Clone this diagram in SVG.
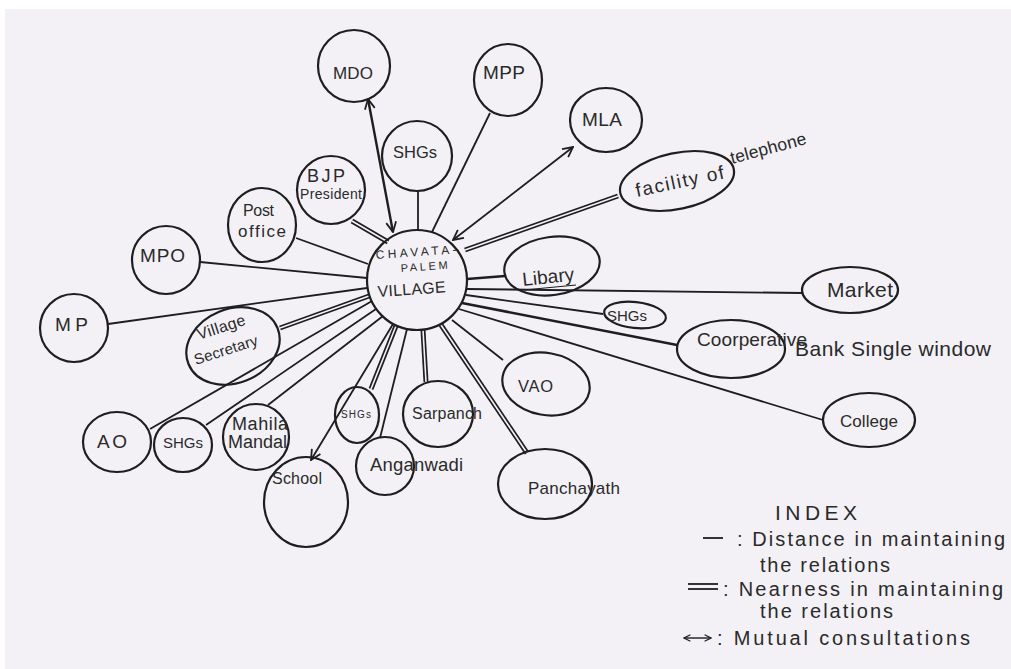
<svg xmlns="http://www.w3.org/2000/svg" width="1011" height="669" viewBox="0 0 1011 669">
<defs>
<style>
.n{fill:none;stroke:#1e1e1e;stroke-width:2.2}
.l{fill:none;stroke:#1e1e1e;stroke-width:1.8}
.d{fill:none;stroke:#1e1e1e;stroke-width:5}
.di{fill:none;stroke:#f3f1f6;stroke-width:1.6}
text{font-family:"Liberation Sans",Arial,sans-serif;fill:#2a2a2a;font-size:17px}
.m{font-size:19px}
.b{font-size:21px}
.g{font-size:18px}
.x{font-size:20px}
</style>
<marker id="ah" viewBox="0 0 12 12" refX="11" refY="6" markerWidth="12" markerHeight="12" markerUnits="userSpaceOnUse" orient="auto-start-reverse">
<path d="M1,1 L11,6 L1,11" fill="none" stroke="#1e1e1e" stroke-width="1.8"/>
</marker>
<marker id="ahs" viewBox="0 0 10 10" refX="9" refY="5" markerWidth="8" markerHeight="8" markerUnits="userSpaceOnUse" orient="auto-start-reverse">
<path d="M1,1 L9,5 L1,9" fill="none" stroke="#1e1e1e" stroke-width="1.5"/>
</marker>
</defs>
<rect width="1011" height="669" fill="#ffffff"/>
<rect x="5" y="9" width="1006" height="660" fill="#f3f1f6"/>
<g id="connectors">
<line class="d" x1="352" y1="221" x2="388" y2="242"/><line class="di" x1="352" y1="221" x2="388" y2="242"/>
<line class="d" x1="280" y1="328" x2="369" y2="296"/><line class="di" x1="280" y1="328" x2="369" y2="296"/>
<line class="d" x1="371" y1="389" x2="396" y2="326"/><line class="di" x1="371" y1="389" x2="396" y2="326"/>
<line class="d" x1="426" y1="382" x2="423" y2="330"/><line class="di" x1="426" y1="382" x2="423" y2="330"/>
<line class="d" x1="527" y1="453" x2="441" y2="325"/><line class="di" x1="527" y1="453" x2="441" y2="325"/>
<line class="d" x1="618" y1="196" x2="465" y2="250"/><line class="di" x1="618" y1="196" x2="465" y2="250"/>
<line class="l" x1="490" y1="113" x2="432" y2="232"/>
<line class="l" x1="418" y1="191" x2="418" y2="230"/>
<line class="l" x1="296" y1="238" x2="368" y2="264"/>
<line class="l" x1="200" y1="262" x2="367" y2="278"/>
<line class="l" x1="108" y1="324" x2="367" y2="288"/>
<line class="l" x1="150" y1="429" x2="372" y2="301"/>
<line class="l" x1="206" y1="425" x2="376" y2="309"/>
<line class="l" x1="268" y1="405" x2="383" y2="316"/>
<line class="l" x1="380" y1="438" x2="407" y2="329"/>
<line class="l" x1="503" y1="360" x2="452" y2="320"/>
<line class="l" x1="823" y1="420" x2="459" y2="309"/>
<line class="l" x1="677" y1="345" x2="462" y2="303" style="stroke-width:2.6"/>
<line class="l" x1="603" y1="314" x2="466" y2="295"/>
<line class="l" x1="802" y1="293" x2="467" y2="289"/>
<line class="l" x1="505" y1="276" x2="467" y2="279" style="stroke-width:2.4"/>
<line class="l" x1="368" y1="99" x2="393" y2="232" style="stroke-width:2.4" marker-start="url(#ah)" marker-end="url(#ah)"/>
<line class="l" x1="573" y1="147" x2="453" y2="240" marker-start="url(#ah)" marker-end="url(#ah)"/>
<line class="l" x1="393" y1="324" x2="311" y2="460" marker-end="url(#ah)"/>
</g>
<g id="village">
<circle class="n" cx="417" cy="280" r="50"/>
<text x="376" y="259" style="font-size:12px" textLength="81" transform="rotate(-4 376 259)">CHAVATA-</text>
<text x="401" y="272" style="font-size:11px" textLength="47" transform="rotate(-4 401 272)">PALEM</text>
<text x="378" y="297" style="font-size:16px" textLength="68" transform="rotate(-4 378 297)">VILLAGE</text>
</g>
<g id="mdo"><ellipse class="n" cx="354" cy="66" rx="36" ry="36"/><text x="333" y="79" textLength="40">MDO</text></g>
<g id="mpp"><ellipse class="n" cx="508" cy="80" rx="34" ry="36"/><text class="m" x="483" y="79" textLength="42">MPP</text></g>
<g id="mla"><ellipse class="n" cx="606" cy="120" rx="36" ry="32"/><text class="m" x="582" y="126" textLength="40">MLA</text></g>
<g id="shgs-top"><circle class="n" cx="417" cy="156" r="35"/><text x="393" y="158" style="font-size:16.5px" textLength="44">SHGs</text></g>
<g id="telephone"><ellipse class="n" cx="677" cy="181" rx="58" ry="28" transform="rotate(-12 677 181)"/><text class="m" x="637" y="197" textLength="90" transform="rotate(-12 637 197)">facility of</text><text x="732" y="164" style="font-size:17.5px" textLength="78" transform="rotate(-15 732 164)">telephone</text></g>
<g id="bjp"><circle class="n" cx="331" cy="190" r="34"/><text class="g" x="307" y="182" textLength="38">BJP</text><text x="300" y="199" style="font-size:14px" textLength="62">President</text></g>
<g id="post-office"><ellipse class="n" cx="262" cy="225" rx="34" ry="37"/><text x="243" y="216" style="font-size:16px" textLength="31">Post</text><text x="238" y="237" textLength="48">office</text></g>
<g id="mpo"><circle class="n" cx="166" cy="260" r="34"/><text class="m" x="140" y="262" textLength="45">MPO</text></g>
<g id="mp"><circle class="n" cx="74" cy="328" r="34"/><text class="m" x="55" y="331" textLength="33">MP</text></g>
<g id="village-secretary"><ellipse class="n" cx="233" cy="346" rx="48" ry="37" transform="rotate(-22 233 346)"/><text x="199" y="340" style="font-size:16px" textLength="50" transform="rotate(-18 199 340)">Village</text><text x="196" y="365" style="font-size:15px" textLength="66" transform="rotate(-18 196 365)">Secretary</text></g>
<g id="ao"><ellipse class="n" cx="117" cy="442" rx="34" ry="30"/><text class="m" x="97" y="448" textLength="30">AO</text></g>
<g id="shgs-left"><ellipse class="n" cx="183" cy="445" rx="29" ry="27"/><text x="163" y="448" style="font-size:15px" textLength="40">SHGs</text></g>
<g id="mahila-mandal"><circle class="n" cx="256" cy="437" r="33"/><text class="g" x="232" y="430" textLength="56">Mahila</text><text class="g" x="228" y="448" textLength="59">Mandal</text></g>
<g id="school"><ellipse class="n" cx="306" cy="502" rx="42" ry="45"/><text x="272" y="484" style="font-size:16px" textLength="50">School</text></g>
<g id="shgs-bottom"><ellipse class="n" cx="357" cy="415" rx="22" ry="28"/><text x="341" y="418" style="font-size:10px" textLength="30">SHGs</text></g>
<g id="anganwadi"><circle class="n" cx="385" cy="466" r="29"/><text x="370" y="471" style="font-size:18.5px" textLength="93">Anganwadi</text></g>
<g id="sarpanch"><ellipse class="n" cx="438" cy="414" rx="35" ry="33"/><text x="412" y="419" style="font-size:16px" textLength="70">Sarpanch</text></g>
<g id="vao"><ellipse class="n" cx="546" cy="384" rx="44" ry="31" transform="rotate(10 546 384)"/><text x="518" y="392" style="font-size:16.5px" textLength="35">VAO</text></g>
<g id="panchayath"><ellipse class="n" cx="545" cy="484" rx="47" ry="35"/><text x="528" y="494" textLength="92">Panchayath</text></g>
<g id="library"><ellipse class="n" cx="552" cy="266" rx="48" ry="29" transform="rotate(-8 552 266)"/><text class="m" x="523" y="286" textLength="52" transform="rotate(-6 523 286)">Libary</text><line class="l" x1="524" y1="290" x2="576" y2="285" style="stroke-width:1.2"/></g>
<g id="shgs-right"><ellipse class="n" cx="635" cy="315" rx="31" ry="13" transform="rotate(6 635 315)"/><text x="607" y="321" style="font-size:15px" textLength="40">SHGs</text></g>
<g id="market"><ellipse class="n" cx="850" cy="290" rx="48" ry="23"/><text class="b" x="827" y="297" textLength="66">Market</text></g>
<g id="cooperative"><ellipse class="n" cx="731" cy="349" rx="54" ry="29"/><text class="m" x="697" y="346" textLength="110">Coorperative</text><text class="b" x="795" y="356" textLength="196">Bank Single window</text></g>
<g id="college"><ellipse class="n" cx="869" cy="420" rx="46" ry="27"/><text x="840" y="427" textLength="58">College</text></g>
<g id="index">
<text class="b" x="775" y="520" textLength="82">INDEX</text>
<line class="l" x1="703" y1="538" x2="723" y2="538"/>
<text class="x" x="737" y="546" textLength="268">: Distance in maintaining</text>
<text class="x" x="760" y="572" textLength="130">the relations</text>
<line class="l" x1="688" y1="584" x2="718" y2="584"/><line class="l" x1="688" y1="589" x2="718" y2="589"/>
<text class="x" x="723" y="596" textLength="280">: Nearness in maintaining</text>
<text class="x" x="760" y="618" textLength="133">the relations</text>
<line class="l" x1="684" y1="638" x2="711" y2="638" style="stroke-width:1.4" marker-start="url(#ahs)" marker-end="url(#ahs)"/>
<text class="x" x="717" y="645" textLength="253">: Mutual consultations</text>
</g>
</svg>
